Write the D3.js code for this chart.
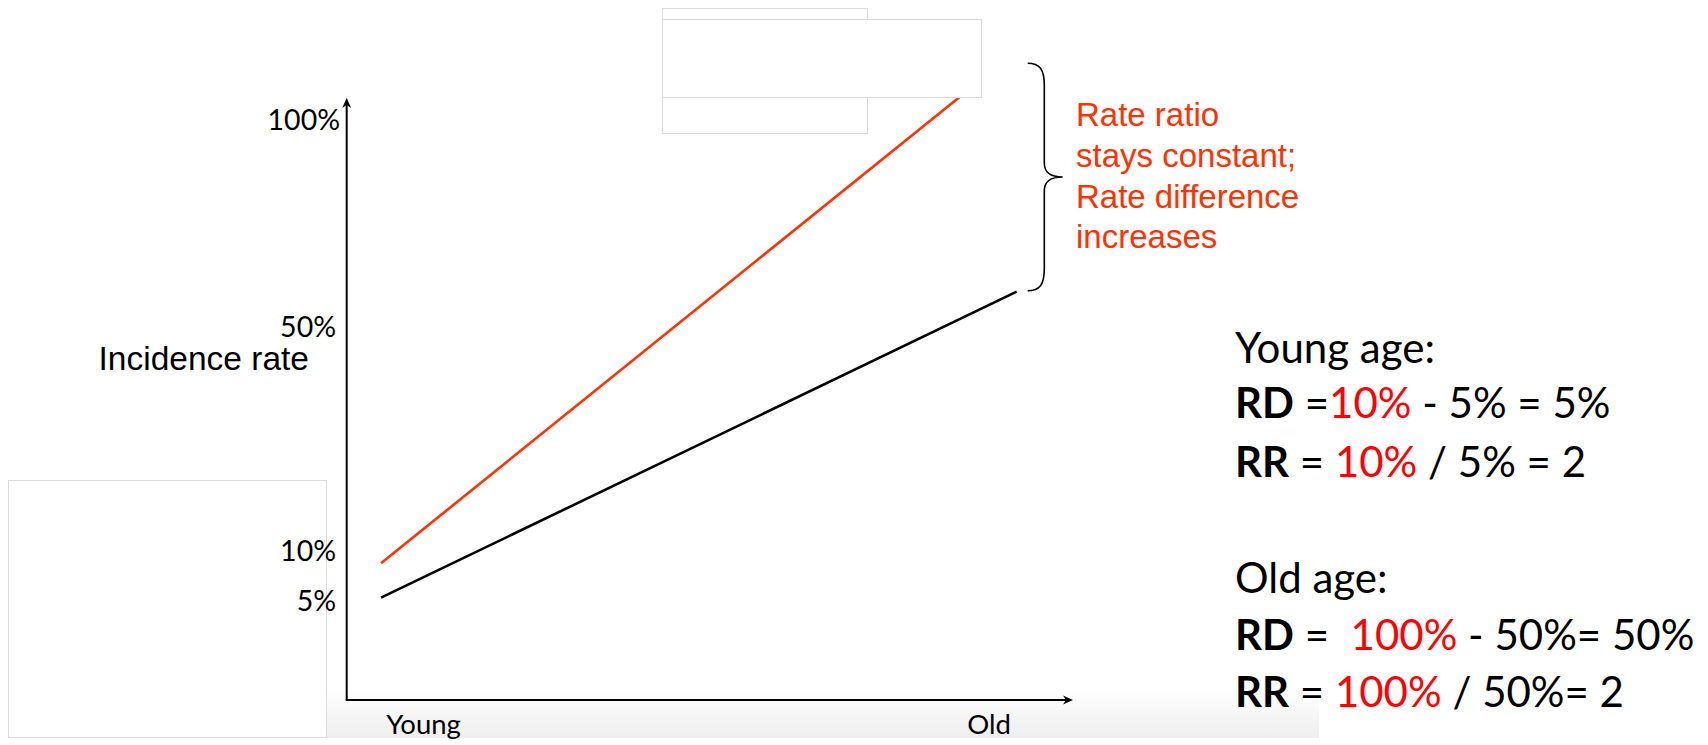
<!DOCTYPE html>
<html>
<head>
<meta charset="utf-8">
<script src="https://cdn.jsdelivr.net/npm/d3@7"></script>
<style>
  html, body { margin: 0; padding: 0; background: #ffffff; }
  svg { display: block; }
  text { white-space: pre; }
</style>
</head>
<body>
<svg id="chart" width="1708" height="745"></svg>
<script>
// ---------------- data ----------------
const categories = ["Young", "Old"];
const exposedRate = [10, 100];     // red line (%)
const unexposedRate = [5, 50];     // black line (%)
const yTickValues = [5, 10, 50, 100];
const yTickLabels = ["5%", "10%", "50%", "100%"];
const yAxisTitle = "Incidence rate";
const annotationLines = ["Rate ratio", "stays constant;", "Rate difference", "increases"];
const youngTitle = "Young age:";
const youngRD = [["RD", "b"], [" =", "k"], ["10%", "r"], [" - 5% = 5%", "k"]];
const youngRR = [["RR", "b"], [" = ", "k"], ["10%", "r"], [" / 5% = 2", "k"]];
const oldTitle = "Old age:";
const oldRD = [["RD", "b"], [" =  ", "k"], ["100%", "r"], [" - 50%= 50%", "k"]];
const oldRR = [["RR", "b"], [" = ", "k"], ["100%", "r"], [" / 50%= 2", "k"]];

// ---------------- layout ----------------
const svg = d3.select("#chart");
const axisX = 346.7, axisY = 700, axisTop = 98, axisRight = 1073;
const RED = "#ff3300";

const defs = svg.append("defs");
const grad = defs.append("linearGradient").attr("id", "floor").attr("x1", 0).attr("y1", 0).attr("x2", 0).attr("y2", 1);
grad.append("stop").attr("offset", "0%").attr("stop-color", "#ffffff");
grad.append("stop").attr("offset", "100%").attr("stop-color", "#eeeeee");
defs.append("clipPath").attr("id", "plotClip").append("rect")
  .attr("x", axisX).attr("y", 85).attr("width", 760).attr("height", axisY - 85);

function box(x0, y0, x1, y1) {
  svg.append("rect").attr("x", x0).attr("y", y0).attr("width", x1 - x0).attr("height", y1 - y0)
    .attr("fill", "#ffffff").attr("stroke", "#dcdcdc").attr("stroke-width", 1);
}

// light floor strip under the x axis
svg.append("rect").attr("x", 327).attr("y", 690).attr("width", 992).attr("height", 48).attr("fill", "url(#floor)");
// empty frame at lower left (behind the tick labels)
box(8.5, 480.5, 326.5, 737.5);

// scales
const x = d3.scalePoint().domain(categories).range([381, 1016.7]);
const yLine = d3.scaleLinear().domain(yTickValues).range([597.7, 563.3, 291.7, 51]);
const yLabel = d3.scaleLinear().domain(yTickValues).range([601.7, 551, 327.7, 120.3]);
const xLabel = d3.scalePoint().domain(categories).range([423, 988.7]);

// y tick labels
const yAxis = svg.append("g").attr("transform", `translate(${axisX},0)`)
  .call(d3.axisLeft(yLabel).tickValues(yTickValues).tickFormat((d, i) => yTickLabels[i]).tickSize(0).tickPadding(10.7));
yAxis.select(".domain").remove();
yAxis.selectAll("text").attr("font-family", "Lato, 'Open Sans', sans-serif").attr("font-size", 28.5).attr("fill", "#000");
yAxis.selectAll(".tick").filter(d => d === 100).select("text").attr("x", -6.7);

// x tick labels
const xAxis = svg.append("g").attr("transform", `translate(0,${axisY})`)
  .call(d3.axisBottom(xLabel).tickSize(0).tickPadding(14.5));
xAxis.select(".domain").remove();
xAxis.selectAll("text").attr("font-family", "Lato, 'Open Sans', sans-serif").attr("font-size", 27.5).attr("fill", "#000");

// axis lines with arrow heads
svg.append("line").attr("x1", axisX).attr("y1", axisY).attr("x2", axisX).attr("y2", axisTop + 3)
  .attr("stroke", "#000").attr("stroke-width", 2);
svg.append("line").attr("x1", axisX - 1).attr("y1", axisY).attr("x2", axisRight - 3).attr("y2", axisY)
  .attr("stroke", "#000").attr("stroke-width", 2);
svg.append("path").attr("d", `M${axisX},${axisTop} L${axisX + 4.5},${axisTop + 10} L${axisX},${axisTop + 7} L${axisX - 4.5},${axisTop + 10} Z`).attr("fill", "#000");
svg.append("path").attr("d", `M${axisRight},${axisY} L${axisRight - 10},${axisY - 4.5} L${axisRight - 7},${axisY} L${axisRight - 10},${axisY + 4.5} Z`).attr("fill", "#000");

// y axis title
svg.append("text").attr("x", 309).attr("y", 370).attr("text-anchor", "end")
  .attr("font-family", "'Liberation Sans', Arial, sans-serif").attr("font-size", 33.5).attr("fill", "#000")
  .text(yAxisTitle);

// lines
const line = d3.line().x(d => x(d.cat)).y(d => yLine(d.v));
const plot = svg.append("g").attr("clip-path", "url(#plotClip)");
plot.append("path").datum(categories.map((c, i) => ({ cat: c, v: unexposedRate[i] })))
  .attr("d", line).attr("fill", "none").attr("stroke", "#000").attr("stroke-width", 2.6);
plot.append("path").datum(categories.map((c, i) => ({ cat: c, v: exposedRate[i] })))
  .attr("d", line).attr("fill", "none").attr("stroke", RED).attr("stroke-width", 2.6);

// brace spanning the two "Old" values
const bx = x("Old") + 11, bTop = yLine(exposedRate[1]) + 12.3, bBot = yLine(unexposedRate[1]) - 1;
const bMid = (bTop + bBot) / 2, bV = bx + 16.6, bTip = bx + 35;
svg.append("path").attr("d",
  `M${bx},${bTop} C${bx + 12},${bTop} ${bV},${bTop + 6} ${bV},${bTop + 22} L${bV},${bMid - 14} ` +
  `C${bV},${bMid - 4} ${bV + 6},${bMid} ${bTip},${bMid} C${bV + 6},${bMid} ${bV},${bMid + 4} ${bV},${bMid + 14} ` +
  `L${bV},${bBot - 22} C${bV},${bBot - 6} ${bx + 12},${bBot} ${bx},${bBot}`)
  .attr("fill", "none").attr("stroke", "#000").attr("stroke-width", 1.6);

// annotation
const ann = svg.append("text").attr("font-family", "'Liberation Sans', Arial, sans-serif").attr("font-size", 33).attr("fill", RED);
annotationLines.forEach((t, i) => {
  ann.append("tspan").attr("x", 1076).attr("y", 126 + i * 40.8).text(t);
});

// white cover boxes at the top
box(662.5, 8.5, 867.5, 133.5);
box(662.5, 19.5, 981.5, 97.5);

// right-hand formulas
const panelFont = "Lato, 'Open Sans', sans-serif";
function plain(t, y) {
  svg.append("text").attr("x", 1235).attr("y", y).attr("font-family", panelFont).attr("font-size", 42)
    .attr("fill", "#000").text(t);
}
function rich(parts, y) {
  const t = svg.append("text").attr("x", 1235).attr("y", y).attr("font-family", panelFont).attr("font-size", 42);
  parts.forEach(([s, k]) => {
    t.append("tspan").text(s)
      .attr("font-weight", k === "b" ? 700 : 400)
      .attr("fill", k === "r" ? "#ff0000" : "#000");
  });
}
plain(youngTitle, 362.7);
rich(youngRD, 418.3);
rich(youngRR, 476.7);
plain(oldTitle, 592.7);
rich(oldRD, 650);
rich(oldRR, 706.7);
</script>
</body>
</html>
